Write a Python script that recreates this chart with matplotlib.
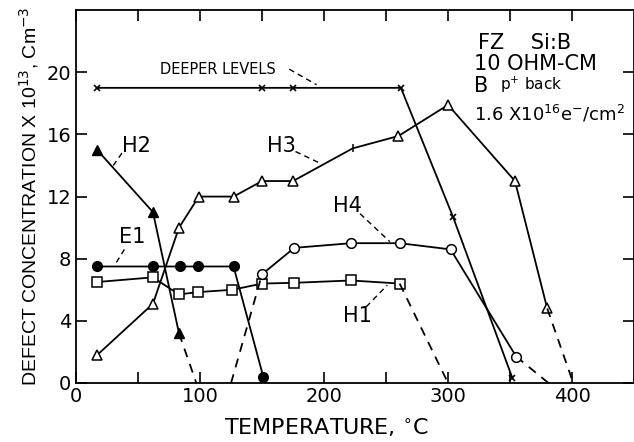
import numpy as np
import matplotlib.pyplot as plt

plt.rcParams['font.family'] = ['DejaVu Sans']
plt.rcParams['mathtext.fontset'] = 'dejavusans'

# deeper levels (x markers)
deep_t = [17, 150, 175, 262, 304, 352]
deep_c = [19.0, 19.0, 19.0, 19.0, 10.7, 0.3]

# H3 (open triangles), the 223 point is drawn as a tick
h3_t = [17, 62, 83, 99, 127, 150, 175, 223, 260, 300, 354, 380]
h3_c = [1.8, 5.1, 10.0, 12.0, 12.0, 13.0, 13.0, 15.1, 15.9, 17.9, 13.0, 4.8]
h3_end = [380, 401]
h3_end_c = [4.8, 0]

# H2 (filled triangles)
h2_t = [17, 62, 83]
h2_c = [15.0, 11.0, 3.2]
h2_end = [83, 97]
h2_end_c = [3.2, 0]

# E1 (filled circles)
e1_t = [17, 62, 84, 98, 127, 151]
e1_c = [7.5, 7.5, 7.5, 7.5, 7.5, 0.4]

# H1 (open squares)
h1_t = [17, 62, 83, 98, 126, 150, 176, 222, 261]
h1_c = [6.5, 6.8, 5.7, 5.85, 6.0, 6.4, 6.45, 6.6, 6.4]
h1_end = [261, 300]
h1_end_c = [6.4, 0]

# H4 (open circles)
h4_t = [150, 176, 222, 261, 302, 355]
h4_c = [7.0, 8.7, 9.0, 9.0, 8.6, 1.7]
h4_start = [125, 150]
h4_start_c = [0, 7.0]
h4_end = [355, 381]
h4_end_c = [1.7, 0]

fig = plt.figure(figsize=(6.34, 4.42), dpi=100)
ax = fig.add_axes([0.12, 0.1335, 0.88, 0.8435])

lw = 1.3
dash = (0, (5, 4))
lead = (0, (4, 3))
k = 'black'

ax.plot(deep_t, deep_c, color=k, lw=lw, marker='x', ms=5, mew=1.2)

ax.plot(h3_t, h3_c, color=k, lw=lw)
mask = [i for i, t in enumerate(h3_t) if t != 223]
ax.plot([h3_t[i] for i in mask], [h3_c[i] for i in mask], ls='none', marker='^',
        ms=7, mfc='white', mec=k, mew=1.1)
ax.plot([223], [15.1], ls='none', marker='|', ms=6, mec=k, mew=1.1)
ax.plot(h3_end, h3_end_c, color=k, lw=lw, ls=dash)

ax.plot(h2_t, h2_c, color=k, lw=lw, marker='^', ms=7, mfc=k, mec=k)
ax.plot(h2_end, h2_end_c, color=k, lw=lw, ls=dash)

ax.plot(e1_t, e1_c, color=k, lw=lw, marker='o', ms=7, mfc=k, mec=k)

ax.plot(h1_t, h1_c, color=k, lw=lw, marker='s', ms=6.5, mfc='white', mec=k, mew=1.1)
ax.plot(h1_end, h1_end_c, color=k, lw=lw, ls=dash)

ax.plot(h4_start, h4_start_c, color=k, lw=lw, ls=dash)
ax.plot(h4_end, h4_end_c, color=k, lw=lw, ls=dash)
ax.plot(h4_t, h4_c, color=k, lw=lw, marker='o', ms=7, mfc='white', mec=k, mew=1.1, zorder=3)

# curve labels with dashed leaders
lab = dict(fontsize=15, color=k)
ax.text(37, 14.9, 'H2', **lab)
ax.plot([37, 30], [14.8, 14.0], color=k, lw=1, ls=lead)
ax.text(35, 9.0, 'E1', **lab)
ax.plot([39, 32], [8.6, 7.7], color=k, lw=1, ls=lead)
ax.text(154, 14.9, 'H3', **lab)
ax.plot([177, 198], [14.9, 14.1], color=k, lw=1, ls=lead)
ax.text(207, 11.0, 'H4', **lab)
ax.plot([229, 253], [10.9, 9.1], color=k, lw=1, ls=lead)
ax.text(215, 3.9, 'H1', **lab)
ax.plot([234, 251], [4.9, 6.3], color=k, lw=1, ls=lead)
ax.text(68, 19.9, 'DEEPER LEVELS', fontsize=10.5, color=k)
ax.plot([172, 194], [20.2, 19.2], color=k, lw=1, ls=lead)

# sample info block
info = dict(fontsize=15, color=k)
ax.text(324, 21.5, 'FZ    Si:B', **info)
ax.text(321, 20.15, '10 OHM-CM', **info)
ax.text(321, 18.75, 'B', **info)
ax.text(342, 18.85, r'p$^{+}$ back', fontsize=11, color=k)
ax.text(321, 16.9, r'1.6 X10$^{16}$e$^{-}$/cm$^{2}$', fontsize=13, color=k)

ax.set_xlim(0, 450)
ax.set_ylim(0, 24)
ax.set_xticks([0, 100, 200, 300, 400])
ax.set_xticks([50, 150, 250, 350], minor=True)
ax.set_yticks([0, 4, 8, 12, 16, 20])
ax.tick_params(which='both', direction='in', top=True, right=True, width=1.2,
               labelsize=14, length=8)
ax.tick_params(axis='x', pad=3)
for s in ax.spines.values():
    s.set_linewidth(1.3)

ax.set_xlabel('TEMPERATURE, $^{\\circ}$C', fontsize=16, labelpad=8)
ax.xaxis.set_label_coords(0.448, -0.09)
ax.set_ylabel('DEFECT CONCENTRATION X 10$^{13}$, Cm$^{-3}$', fontsize=14,
              family='Liberation Sans', labelpad=4)

fig.savefig('out.png', dpi=100)
